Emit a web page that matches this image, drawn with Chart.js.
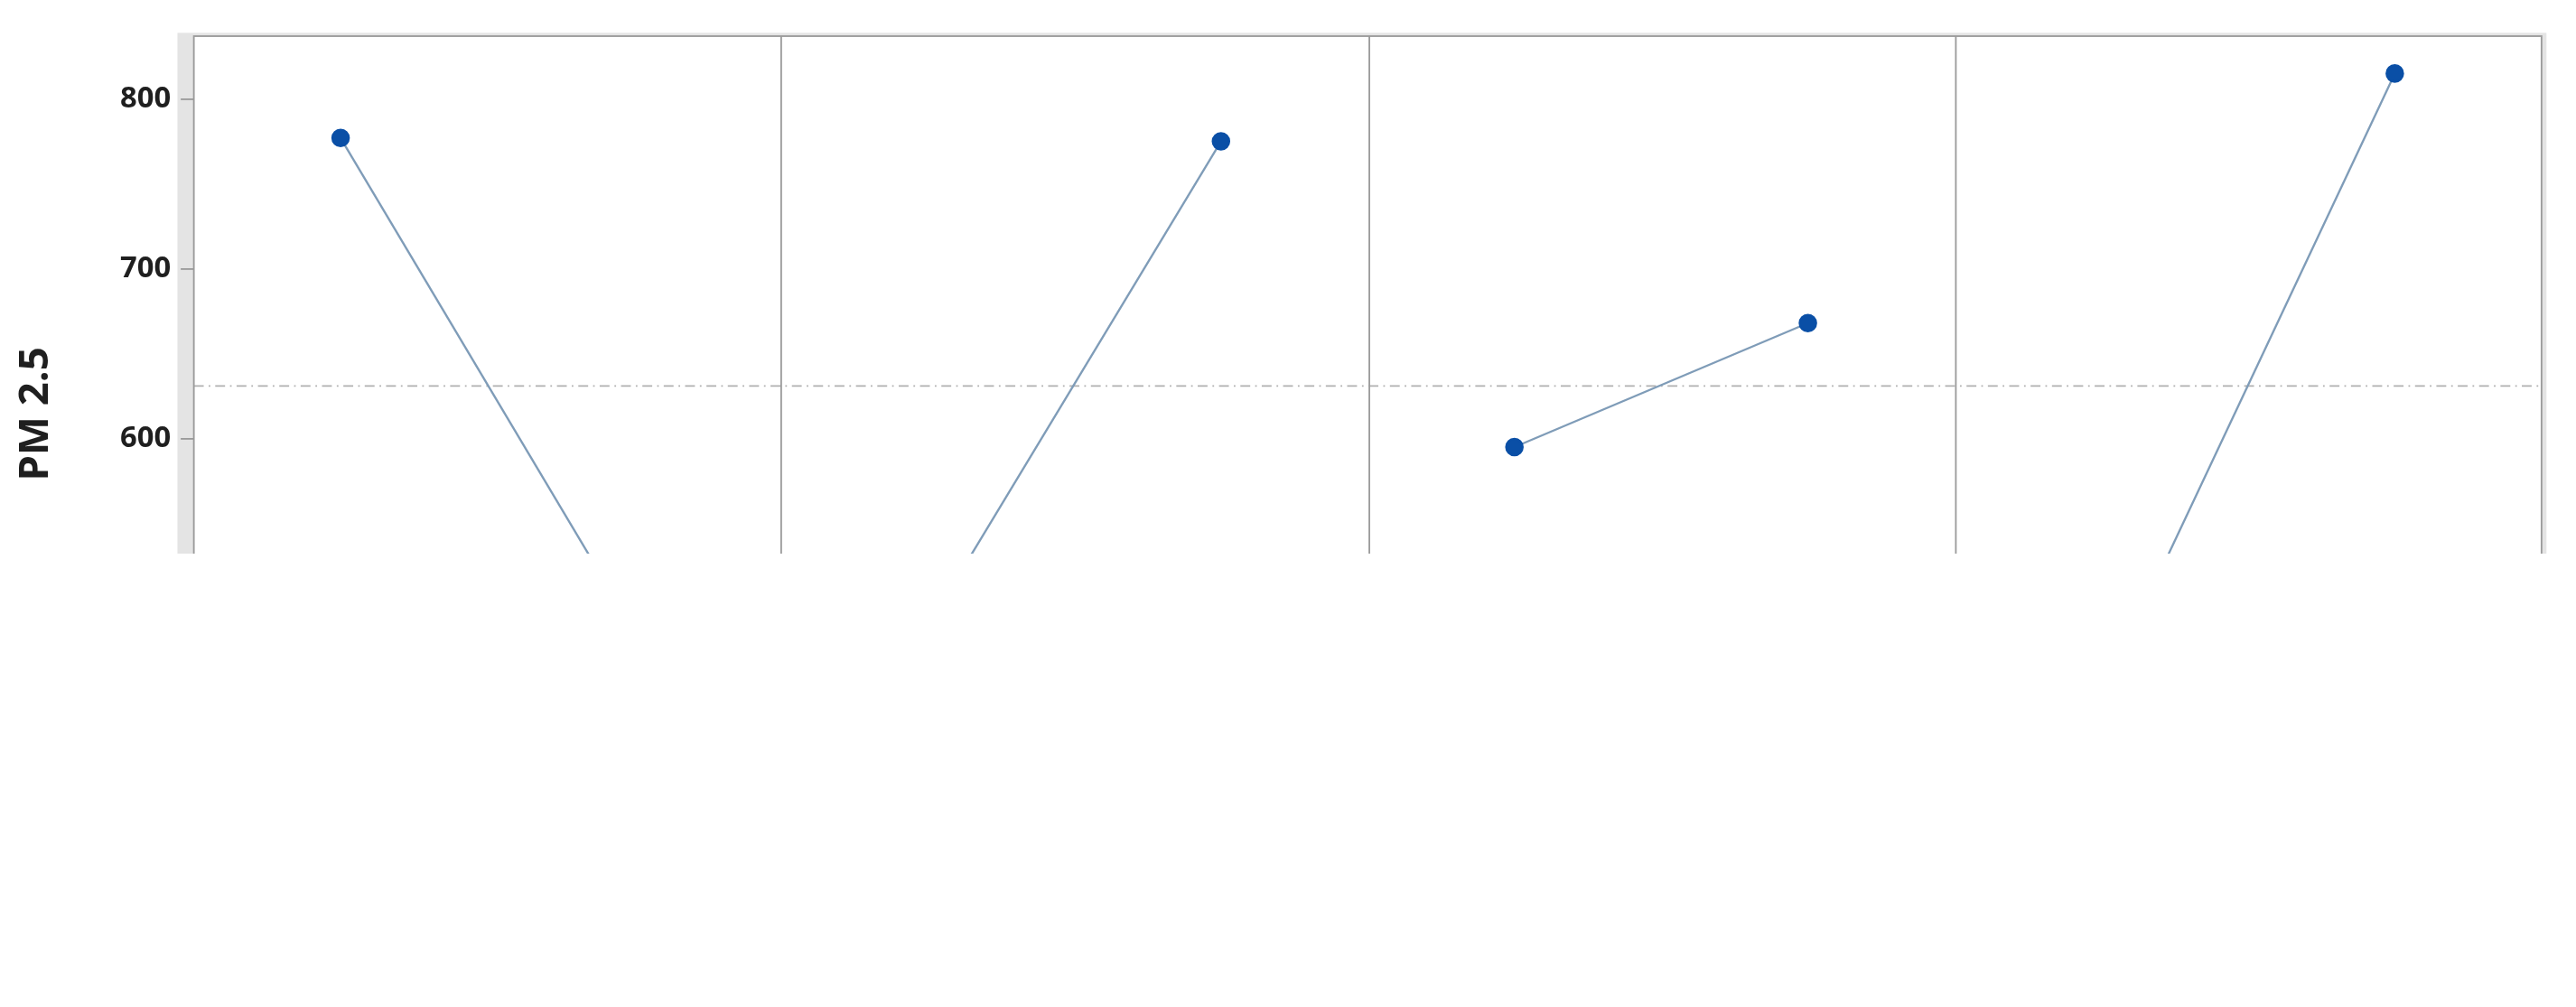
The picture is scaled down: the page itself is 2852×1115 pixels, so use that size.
<!DOCTYPE html>
<html>
<head>
<meta charset="utf-8">
<script src="https://cdn.jsdelivr.net/npm/chart.js@4"></script>
<style>
  html, body { margin: 0; padding: 0; background: #fff; overflow: hidden; }
  #wrap { width: 1568px; height: 613px; transform: scale(1.8189); transform-origin: 0 0; }
</style>
</head>
<body>
<div id="wrap"><canvas id="chart" width="1568" height="613"></canvas></div>
<script>
const factors = ['(a) Ions', '(b) Cigarette', '(c) Incense', '(d) Gasoline'];
const levels = ['\u22121', '1'];
const lowMeans = [777, 489, 595, 448];
const highMeans = [487, 775, 668, 815];
const grandMean = 631;
const yTicks = [400, 500, 600, 700, 800];

const S = 1.8189;
const ink = '#1f1f1f';

// each factor gets a panel 2 units wide, levels at +0.5 and +1.5
const datasets = factors.map((f, i) => ({
    label: f,
    data: [{ x: 2 * i + 0.5, y: lowMeans[i] }, { x: 2 * i + 1.5, y: highMeans[i] }],
    borderColor: '#7f9cb8',
    borderWidth: 1.3,
    pointBackgroundColor: '#0a4fa6',
    pointBorderColor: '#0a4fa6',
    pointRadius: 5,
    showLine: true
}));
datasets.push({
    label: 'mean',
    data: [{ x: 0, y: grandMean }, { x: 8, y: grandMean }],
    borderColor: '#b0b0b0',
    borderWidth: 1,
    borderDash: [6, 3, 1, 3],
    pointRadius: 0,
    showLine: true
});

const framePlugin = {
    id: 'frame',
    beforeDraw(chart) {
        const { ctx, chartArea: a } = chart;
        ctx.save();
        ctx.fillStyle = '#e4e4e4';
        ctx.fillRect(a.left - 10, a.top - 2, a.right - a.left + 13, a.bottom - a.top + 12);
        ctx.fillStyle = '#fff';
        ctx.fillRect(a.left, a.top, a.right - a.left, a.bottom - a.top);
        ctx.restore();
    },
    afterDatasetsDraw(chart) {
        const { ctx, chartArea: a, scales } = chart;
        ctx.save();
        ctx.strokeStyle = '#9a9a9a';
        ctx.lineWidth = 1;
        ctx.strokeRect(a.left, a.top, a.right - a.left, a.bottom - a.top);
        for (let i = 1; i < factors.length; i++) {
            const x = Math.round(scales.x.getPixelForValue(2 * i)) + 0.5;
            ctx.beginPath(); ctx.moveTo(x, a.top); ctx.lineTo(x, a.bottom); ctx.stroke();
        }
        ctx.fillStyle = ink;
        ctx.font = '26px "Open Sans", sans-serif';
        ctx.textAlign = 'center';
        ctx.textBaseline = 'middle';
        factors.forEach((f, i) => {
            ctx.fillText(f, scales.x.getPixelForValue(2 * i + 1), 553);
        });
        ctx.translate(22, (a.top + a.bottom) / 2);
        ctx.rotate(-Math.PI / 2);
        ctx.font = 'bold 25px "Open Sans", sans-serif';
        ctx.fillText('PM 2.5', 0, 0);
        ctx.restore();
    }
};

new Chart(document.getElementById('chart'), {
    type: 'scatter',
    data: { datasets },
    options: {
        responsive: false,
        animation: false,
        devicePixelRatio: S,
        layout: { padding: { top: 22, right: 21, left: 0, bottom: 0 } },
        plugins: { legend: { display: false }, tooltip: { enabled: false } },
        scales: {
            x: {
                type: 'linear', min: 0, max: 8,
                afterBuildTicks(scale) {
                    scale.ticks = [];
                    for (let i = 0; i < factors.length; i++) {
                        scale.ticks.push({ value: 2 * i + 0.5 }, { value: 2 * i + 1.5 });
                    }
                },
                afterFit(scale) { scale.height = 131; },
                border: { display: false },
                grid: { drawOnChartArea: false, tickLength: 8, color: '#9a9a9a' },
                ticks: {
                    autoSkip: false, maxRotation: 0, padding: 6,
                    color: ink, font: { size: 20, family: '"Open Sans", sans-serif' },
                    callback: v => levels[Math.round(v * 2) % 4 === 1 ? 0 : 1]
                }
            },
            y: {
                min: 392, max: 837,
                afterBuildTicks(scale) { scale.ticks = yTicks.map(v => ({ value: v })); },
                afterFit(scale) { scale.width = 118; },
                border: { display: false },
                grid: { drawOnChartArea: false, tickLength: 8, color: '#9a9a9a' },
                ticks: {
                    padding: 6, color: ink,
                    font: { size: 18, weight: 'bold', family: '"Open Sans", sans-serif' }
                }
            }
        }
    },
    plugins: [framePlugin]
});
</script>
</body>
</html>
